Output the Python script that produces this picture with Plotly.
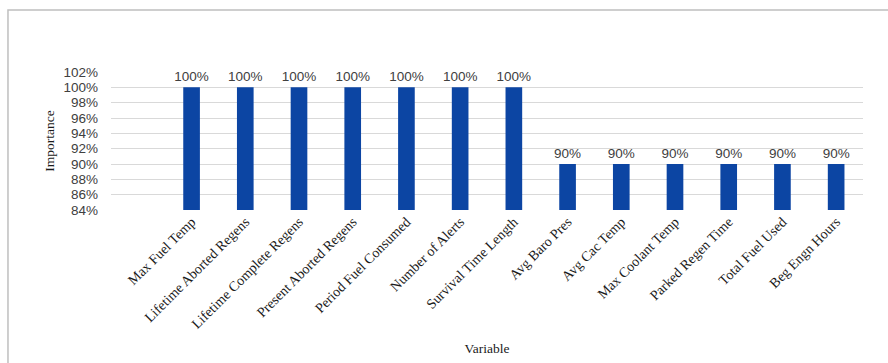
import plotly.graph_objects as go

# Variable importance for engine-related predictors
variables = [
    "Max Fuel Temp", "Lifetime Aborted Regens", "Lifetime Complete Regens",
    "Present Aborted Regens", "Period Fuel Consumed", "Number of Alerts",
    "Survival Time Length", "Avg Baro Pres", "Avg Cac Temp",
    "Max Coolant Temp", "Parked Regen Time", "Total Fuel Used",
    "Beg Engn Hours",
]
importance = [100, 100, 100, 100, 100, 100, 100, 90, 90, 90, 90, 90, 90]
y_ticks = list(range(84, 103, 2))
y_tick_labels = [f"{v}%" for v in y_ticks]

BAR_COLOR = "#0c45a3"
GRID_COLOR = "#d9d9d9"
SANS = "Liberation Sans, Arial, sans-serif"
SERIF = "Liberation Serif, Times New Roman, serif"

fig = go.Figure(
    go.Bar(
        x=variables,
        y=importance,
        marker=dict(color=BAR_COLOR, line=dict(width=0)),
        width=0.31,
        text=[f"{v}%" for v in importance],
        textposition="outside",
        constraintext="none",
        textfont=dict(family=SANS, size=13.5, color="#404040"),
        cliponaxis=False,
    )
)

# chart-area frame
fig.add_shape(
    type="rect", xref="paper", yref="paper",
    x0=-0.137, x1=1.04, y0=-1.15, y1=1.449,
    line=dict(color="#bfbfbf", width=1.5), fillcolor="rgba(0,0,0,0)",
    layer="below",
)

fig.update_layout(
    width=888, height=363,
    margin=dict(l=111, r=25, t=72, b=153),
    paper_bgcolor="white", plot_bgcolor="white",
    showlegend=False,
    xaxis=dict(
        type="category",
        range=[-1.5, 12.5],
        tickangle=-45,
        tickfont=dict(family=SERIF, size=14, color="#1a1a1a"),
        showgrid=False,
        showline=False,
        ticks="",
        automargin=False,
        title=dict(text="Variable", font=dict(family=SERIF, size=13.5, color="#1a1a1a"), standoff=12),
    ),
    yaxis=dict(
        range=[84, 102],
        tickmode="array",
        tickvals=y_ticks,
        ticktext=y_tick_labels,
        tickfont=dict(family=SANS, size=13.5, color="#404040"),
        showgrid=True, gridcolor=GRID_COLOR, gridwidth=1,
        zeroline=False, showline=False, ticks="",
        ticklabelstandoff=12,
        automargin=False,
        title=dict(text="Importance", font=dict(family=SERIF, size=13.5, color="#1a1a1a"), standoff=5),
    ),
)

fig.write_html("out.html")
